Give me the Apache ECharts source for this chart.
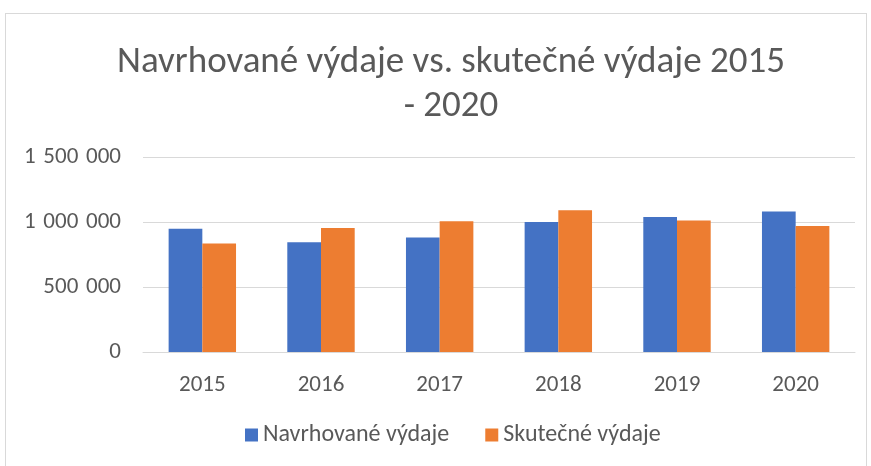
<!DOCTYPE html>
<html>
<head>
<meta charset="utf-8">
<script src="https://cdn.jsdelivr.net/npm/echarts@6/dist/echarts.min.js"></script>
<style>
  html, body { margin: 0; padding: 0; background: #fff; }
  #chart { width: 871px; height: 466px; }
  .frame {
    position: absolute; left: 5px; top: 13px; width: 860px; height: 470px;
    border: 1px solid #d9d9d9; pointer-events: none;
  }
</style>
</head>
<body>
<div id="chart"></div>
<div class="frame"></div>
<script>
// roky a výdaje
const years = ['2015', '2016', '2017', '2018', '2019', '2020'];
const navrhovane = [949000, 844000, 880000, 1000000, 1038000, 1080000];
const skutecne = [834000, 954000, 1005000, 1090000, 1011000, 969000];
const seriesNames = ['Navrhované výdaje', 'Skutečné výdaje'];

const font = 'Carlito, Calibri, "Open Sans", sans-serif';

const chart = echarts.init(document.getElementById('chart'));

// formát s mezerou jako oddělovačem tisíců
const fmt = v => String(v).replace(/\B(?=(\d{3})+(?!\d))/g, '\u2004');

chart.setOption({
  animation: false,
  title: {
    text: 'Navrhované výdaje vs. skutečné výdaje 2015\n- 2020',
    left: 446,
    textAlign: 'center',
    top: 36,
    textStyle: {
      fontFamily: font,
      fontSize: 37,
      fontWeight: 'normal',
      color: '#595959',
      lineHeight: 44
    }
  },
  legend: {
    data: seriesNames,
    bottom: 14,
    left: 240,
    icon: 'rect',
    itemWidth: 13,
    itemHeight: 13,
    itemGap: 36,
    textStyle: { fontFamily: font, fontSize: 24, color: '#595959' }
  },
  grid: { left: 143, right: 16, top: 157, bottom: 114 },
  xAxis: {
    type: 'category',
    data: years,
    axisLine: { lineStyle: { color: '#d9d9d9', width: 1 } },
    axisTick: { show: false },
    axisLabel: { fontFamily: font, fontSize: 23, color: '#595959', margin: 22 }
  },
  yAxis: {
    type: 'value',
    min: 0,
    max: 1500000,
    interval: 500000,
    axisLine: { show: false },
    axisTick: { show: false },
    splitLine: { lineStyle: { color: '#d9d9d9', width: 1 } },
    axisLabel: {
      fontFamily: font, fontSize: 23, color: '#595959', margin: 22,
      formatter: fmt
    }
  },
  series: [
    {
      name: seriesNames[0],
      type: 'bar',
      data: navrhovane,
      barWidth: '28.4%',
      barGap: '0%',
      itemStyle: { color: '#4472c4' }
    },
    {
      name: seriesNames[1],
      type: 'bar',
      data: skutecne,
      barWidth: '28.4%',
      barGap: '0%',
      itemStyle: { color: '#ed7d31' }
    }
  ]
});
</script>
</body>
</html>
